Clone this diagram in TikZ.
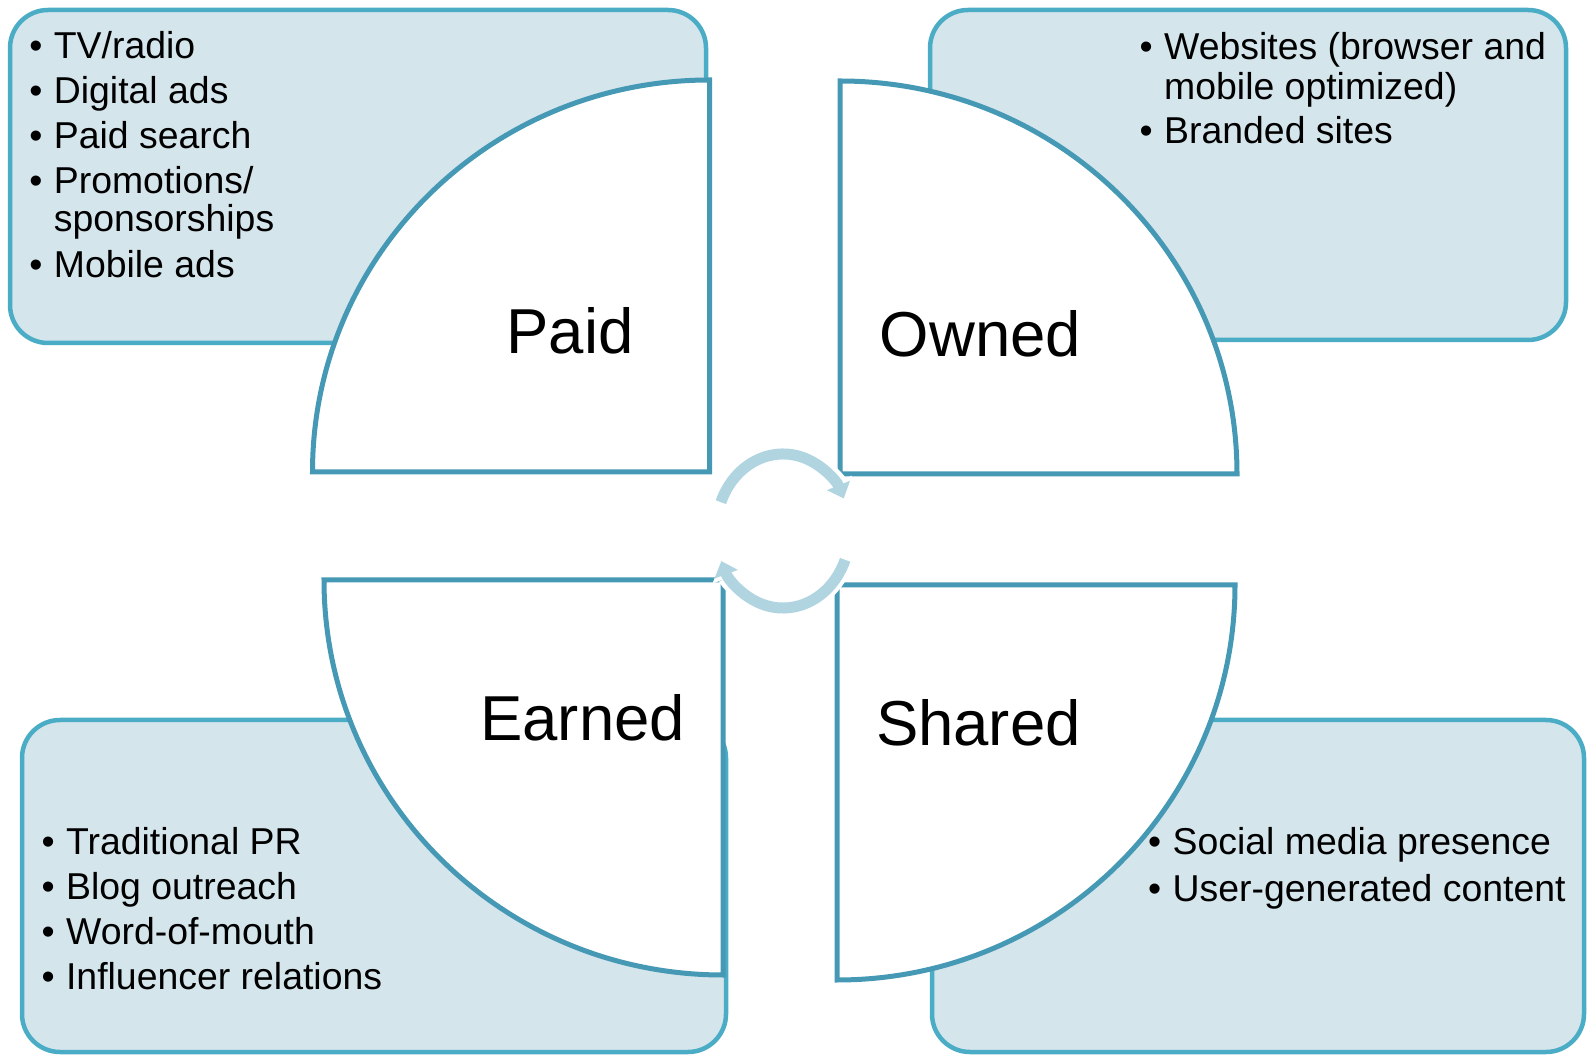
\documentclass[tikz,border=0pt]{standalone}
\usepackage{fontspec}
\setmainfont{Liberation Sans}
\usetikzlibrary{arrows.meta}

\definecolor{boxfill}{HTML}{D4E5EC}
\definecolor{boxline}{HTML}{4BACC6}
\definecolor{quarterline}{HTML}{4599B4}
\definecolor{cyclearrow}{HTML}{B0D4E0}

% bullet hanging to the left of the item text
\newcommand{\bul}{\llap{\hbox to 36bp{\hss\textbullet\hss}}}

\begin{document}
\begin{tikzpicture}[x=1bp,y=1bp,
  listbox/.style={draw=boxline, fill=boxfill, line width=4.5bp, rounded corners=38bp},
  quarter/.style={draw=quarterline, fill=white, line width=5bp, line join=miter},
  title/.style={anchor=base, inner sep=0pt, font=\fontsize{63.5bp}{70bp}\selectfont},
  item/.style={anchor=base west, inner sep=0pt, font=\fontsize{37.4bp}{44bp}\selectfont},
  halo/.style={draw=white, line width=19bp, -{Triangle[width=31bp,length=18bp]}},
  cyc/.style={draw=cyclearrow, line width=11bp, -{Triangle[width=24bp,length=14bp]}}]
\useasboundingbox (0,0) rectangle (1589,1054);

% list boxes
\draw[listbox] (10,711) rectangle (706,1044);
\draw[listbox] (930,714) rectangle (1566,1044);
\draw[listbox] (22,2) rectangle (726,334);
\draw[listbox] (932,2) rectangle (1584,334);

% quarter discs
\draw[quarter] (709.5,582) -- (709.5,974) arc[start angle=90, end angle=180, x radius=397, y radius=392] -- cycle;
\draw[quarter] (840,580) -- (840,973) arc[start angle=90, end angle=0, x radius=397, y radius=393] -- cycle;
\draw[quarter] (723,474) -- (324,474) arc[start angle=180, end angle=270, x radius=399, y radius=395] -- cycle;
\draw[quarter] (837,469) -- (1235,469) arc[start angle=0, end angle=-90, x radius=398, y radius=395] -- cycle;

% cycle arrows in the middle
\coordinate (cyc) at (783,523);
\draw[halo] (cyc) ++(158:67 and 77) arc[start angle=158, end angle=25, x radius=67, y radius=77];
\draw[halo] (cyc) ++(-22:67 and 77) arc[start angle=-22, end angle=-157, x radius=67, y radius=77];
\draw[cyc] (cyc) ++(158:67 and 77) arc[start angle=158, end angle=25, x radius=67, y radius=77];
\draw[cyc] (cyc) ++(-22:67 and 77) arc[start angle=-22, end angle=-157, x radius=67, y radius=77];

% titles
\node[title] (paid) at (570,700) {Paid};
\node[title] (owned) at (980.5,697) {Owned};
\node[title] (earned) at (582.7,313) {Earned};
\node[title] (shared) at (978.4,308) {Shared};

% paid list
\node[item] (p1) at (53.7,995.5) {\bul TV/radio};
\node[item] (p2) at (53.7,950.5) {\bul Digital ads};
\node[item] (p3) at (53.7,905.5) {\bul Paid search};
\node[item] (p4) at (53.7,860.5) {\bul Promotions/};
\node[item] (p4b) at (53.7,822.5) {sponsorships};
\node[item] (p5) at (53.7,776.5) {\bul Mobile ads};

% owned list
\node[item] (o1) at (1164,994) {\bul Websites (browser and};
\node[item] (o1b) at (1164,954.2) {mobile optimized)};
\node[item] (o2) at (1164,910.5) {\bul Branded sites};

% earned list
\node[item] (e1) at (65.9,200) {\bul Traditional PR};
\node[item] (e2) at (65.9,154.7) {\bul Blog outreach};
\node[item] (e3) at (65.9,110) {\bul Word-of-mouth};
\node[item] (e4) at (65.9,65) {\bul Influencer relations};

% shared list
\node[item] (s1) at (1172.5,200) {\bul Social media presence};
\node[item] (s2) at (1172.5,152.7) {\bul User-generated content};
\end{tikzpicture}
\end{document}
